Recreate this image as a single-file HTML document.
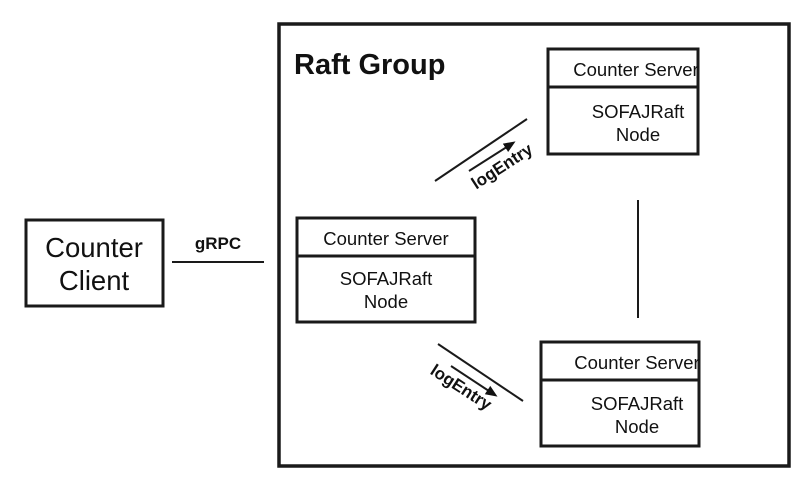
<!DOCTYPE html>
<html><head><style>body{margin:0;background:#fff}svg{display:block}text{font-family:"Liberation Sans",sans-serif;fill:#111}</style></head>
<body>
<svg width="804" height="488" viewBox="0 0 804 488" xmlns="http://www.w3.org/2000/svg">
<defs><marker id="ah" markerWidth="12" markerHeight="10" refX="9" refY="5" orient="auto" markerUnits="userSpaceOnUse"><path d="M0,0 L12,5 L0,10 z" fill="#111"/></marker></defs>
<g fill="none" stroke="#1a1a1a">
<rect x="279" y="24" width="510" height="442" stroke-width="3.5"/>
<rect x="26" y="220" width="137" height="86" stroke-width="3"/>
<rect x="548" y="49" width="150" height="105" stroke-width="3"/>
<line x1="548" y1="87" x2="698" y2="87" stroke-width="3"/>
<rect x="297" y="218" width="178" height="104" stroke-width="3"/>
<line x1="297" y1="256" x2="475" y2="256" stroke-width="3"/>
<rect x="541" y="342" width="158" height="104" stroke-width="3"/>
<line x1="541" y1="380" x2="699" y2="380" stroke-width="3"/>
<line x1="172" y1="262" x2="264" y2="262" stroke-width="2"/>
<line x1="638" y1="200" x2="638" y2="318" stroke-width="2"/>
<line x1="435" y1="181" x2="527" y2="119" stroke-width="2"/>
<line x1="469" y1="171" x2="513" y2="143" stroke-width="2" marker-end="url(#ah)"/>
<line x1="438" y1="344" x2="523" y2="401" stroke-width="2"/>
<line x1="451" y1="366" x2="495" y2="395" stroke-width="2" marker-end="url(#ah)"/>
</g>
<text x="294" y="74" font-size="29" font-weight="bold">Raft Group</text>
<text x="94" y="257" font-size="27.5" text-anchor="middle">Counter</text>
<text x="94" y="290" font-size="27.5" text-anchor="middle">Client</text>
<text x="218" y="249" font-size="17" font-weight="bold" text-anchor="middle">gRPC</text>
<text x="636" y="76" font-size="18.5" text-anchor="middle">Counter Server</text>
<text x="638" y="118" font-size="18.5" text-anchor="middle">SOFAJRaft</text>
<text x="638" y="141" font-size="18.5" text-anchor="middle">Node</text>
<text x="386" y="245" font-size="18.5" text-anchor="middle">Counter Server</text>
<text x="386" y="285" font-size="18.5" text-anchor="middle">SOFAJRaft</text>
<text x="386" y="308" font-size="18.5" text-anchor="middle">Node</text>
<text x="637" y="369" font-size="18.5" text-anchor="middle">Counter Server</text>
<text x="637" y="410" font-size="18.5" text-anchor="middle">SOFAJRaft</text>
<text x="637" y="433" font-size="18.5" text-anchor="middle">Node</text>
<text transform="translate(505,171) rotate(-33)" font-size="17" font-weight="bold" text-anchor="middle">logEntry</text>
<text transform="translate(458,392) rotate(33)" font-size="17" font-weight="bold" text-anchor="middle">logEntry</text>
</svg>
</body></html>
